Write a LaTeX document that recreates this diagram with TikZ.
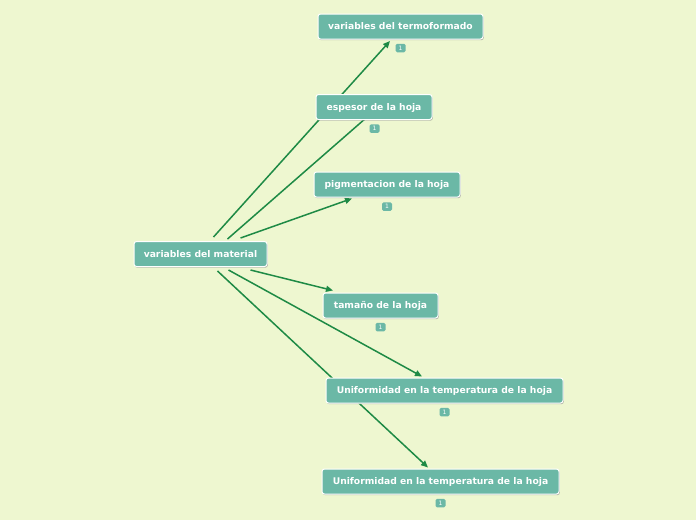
\documentclass[tikz,border=0pt]{standalone}
\usepackage{fontspec}
\setmainfont{DejaVu Sans}
\usetikzlibrary{arrows.meta,shadows,backgrounds,calc}
\definecolor{bgc}{HTML}{EEF7D0}
\definecolor{teal}{HTML}{6BB8A6}
\definecolor{linec}{HTML}{1E8A45}
\tikzset{
  topic/.style={draw=white, line width=1pt, fill=teal, rounded corners=2.5pt,
    text=white, font=\bfseries\fontsize{9.2}{11}\selectfont, minimum height=25pt,
    inner xsep=0pt, text depth=0.5pt,
    drop shadow={shadow xshift=0.8pt, shadow yshift=-1.2pt, fill=black!45, opacity=0.6}},
  badge/.style={fill=teal, rounded corners=1.5pt, text=white, font=\fontsize{6}{6}\selectfont,
    minimum width=10pt, minimum height=8.5pt, inner sep=0pt},
  conn/.style={draw=linec, line width=1.5pt},
  arr/.style={conn, -{Triangle[length=7pt,width=6pt]}}
}
\begin{document}
\begin{tikzpicture}[x=1pt,y=-1pt]
\useasboundingbox (0,0) rectangle (696,520);
\node[topic, minimum width=165pt] (t) at (400.5,26.5) {variables del termoformado};
\node[topic, minimum width=116pt] (e) at (374,107) {espesor de la hoja};
\node[topic, minimum width=146pt] (p) at (387,184.5) {pigmentacion de la hoja};
\node[topic, minimum width=133pt] (m) at (200.5,254) {variables del material};
\node[topic, minimum width=115pt] (s) at (380.5,305.5) {tamaño de la hoja};
\node[topic, minimum width=237pt] (u1) at (444.5,390.5) {Uniformidad en la temperatura de la hoja};
\node[topic, minimum width=237pt] (u2) at (440.5,481.5) {Uniformidad en la temperatura de la hoja};
\node[badge] (bt) at (400.5,48) {1};
\node[badge] (be) at (374.5,128.5) {1};
\node[badge] (bp) at (387,206.5) {1};
\node[badge] (bs) at (380.5,327) {1};
\node[badge] (bu1) at (444.5,412) {1};
\node[badge] (bu2) at (440.5,503) {1};
\begin{pgfonlayer}{background}
\fill[bgc] (0,0) rectangle (696,520);
\coordinate (m1) at ($(m.north west)+(80,-4)$);
\coordinate (m2) at ($(m.north west)+(94,-2)$);
\coordinate (m3) at ($(m.north west)+(107,-3)$);
\coordinate (m4) at ($(m.south west)+(117,3)$);
\coordinate (m5) at ($(m.south west)+(95,3)$);
\coordinate (m6) at ($(m.south west)+(84,4)$);
\draw[arr] (m1) -- ($(t.south)+(-10.5,1.5)$);
\draw[conn] (m2) -- ($(e.south)+(-8,-2)$);
\draw[arr] (m3) -- ($(p.south)+(-35,1)$);
\draw[arr] (m4) -- ($(s.north)+(-47.5,-2)$);
\draw[arr] (m5) -- ($(u1.north)+(-22.5,-1)$);
\draw[arr] (m6) -- ($(u2.north)+(-12.5,-1)$);
\end{pgfonlayer}
\end{tikzpicture}
\end{document}
